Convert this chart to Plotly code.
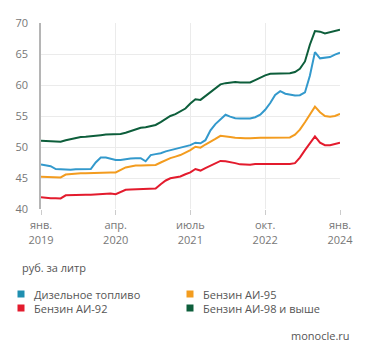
import plotly.graph_objects as go
import pandas as pd

months = pd.date_range("2019-01-01", "2024-01-01", freq="MS")

diesel = [47.2, 47.1, 46.9, 46.45, 46.4, 46.35, 46.35, 46.4, 46.4, 46.4, 46.45, 47.5,
          48.3, 48.3, 48.15, 47.9, 47.9, 48.05, 48.15, 48.2, 48.2, 47.7, 48.7, 48.85,
          49.0, 49.3, 49.5, 49.7, 49.85, 50.05, 50.3, 50.7, 50.6, 51.1, 52.7, 53.7,
          54.5, 55.2, 54.9, 54.65, 54.6, 54.6, 54.6, 54.8, 55.2, 56.0, 57.1, 58.4,
          59.0, 58.6, 58.4, 58.3, 58.35, 58.8, 61.5, 65.3, 64.3, 64.4, 64.5, 64.9, 65.2]
ai95 = [45.2, 45.15, 45.1, 45.1, 45.1, 45.55, 45.65, 45.7, 45.75, 45.75, 45.8, 45.85,
        45.9, 45.9, 45.9, 45.9, 46.3, 46.7, 46.85, 47.0, 47.0, 47.0, 47.05, 47.1,
        47.5, 47.9, 48.2, 48.45, 48.7, 49.1, 49.5, 50.05, 49.9, 50.4, 50.8, 51.3,
        51.8, 51.75, 51.6, 51.5, 51.4, 51.4, 51.4, 51.5, 51.5, 51.5, 51.5, 51.55,
        51.55, 51.55, 51.55, 52.0, 52.8, 54.0, 55.2, 56.5, 55.6, 55.0, 54.9, 55.0, 55.35]
ai92 = [41.9, 41.8, 41.75, 41.75, 41.7, 42.2, 42.25, 42.3, 42.3, 42.3, 42.3, 42.35,
        42.5, 42.55, 42.5, 42.4, 42.8, 43.1, 43.15, 43.2, 43.25, 43.3, 43.3, 43.3,
        44.0, 44.6, 44.95, 45.1, 45.25, 45.6, 45.9, 46.45, 46.2, 46.6, 47.0, 47.4,
        47.75, 47.7, 47.6, 47.4, 47.2, 47.15, 47.15, 47.25, 47.25, 47.25, 47.25, 47.25,
        47.25, 47.2, 47.25, 47.4, 48.3, 49.5, 50.6, 51.7, 50.7, 50.3, 50.3, 50.5, 50.7]
ai98 = [51.0, 50.95, 50.9, 50.9, 50.85, 51.1, 51.3, 51.5, 51.6, 51.65, 51.7, 51.8,
        51.9, 52.0, 52.05, 52.05, 52.1, 52.3, 52.6, 52.9, 53.1, 53.2, 53.4, 53.55,
        54.0, 54.6, 55.0, 55.3, 55.7, 56.2, 57.0, 57.7, 57.6, 58.2, 58.8, 59.4,
        60.1, 60.3, 60.45, 60.5, 60.4, 60.4, 60.4, 60.8, 61.25, 61.55, 61.8, 61.85,
        61.9, 61.9, 61.9, 62.1, 62.6, 63.8, 66.5, 68.7, 68.6, 68.3, 68.5, 68.7, 68.9]

series_names = ["Дизельное топливо", "Бензин АИ-95", "Бензин АИ-92", "Бензин АИ-98 и выше"]
series_values = [diesel, ai95, ai92, ai98]
series_colors = ["#3399cc", "#f39c1f", "#e31b2d", "#0d5e3b"]
legend_colors = ["#1f8fb0", "#f39c1f", "#e31b2d", "#0d5e3b"]

tick_vals = ["2019-01-01", "2020-04-01", "2021-07-01", "2022-10-01", "2024-01-01"]
tick_text = ["янв.<br>2019", "апр.<br>2020", "июль<br>2021", "окт.<br>2022", "янв.<br>2024"]
y_ticks = [40, 45, 50, 55, 60, 65, 70]

FONT = "Open Sans"
W, H = 371, 358
L, R, T, B = 41, 31, 23, 149
pw, ph = W - L - R, H - T - B

def px(x):
    return (x - L) / pw

def py(y):
    return (H - B - y) / ph

fig = go.Figure()
for name, vals, col in zip(series_names, series_values, series_colors):
    fig.add_trace(go.Scatter(x=months, y=vals, name=name, mode="lines",
                             line=dict(color=col, width=2), showlegend=False))

annotations = []
shapes = []
annotations.append(dict(text="руб. за литр", x=px(20), y=py(267), xref="paper", yref="paper",
                        xanchor="left", yanchor="middle", showarrow=False,
                        font=dict(family=FONT, size=11, color="#555555")))
legend_pos = [(21, 294), (190, 294), (21, 308), (190, 308)]
for name, col, (lx, ly) in zip(series_names, legend_colors, legend_pos):
    shapes.append(dict(type="rect", xref="paper", yref="paper",
                       x0=px(lx - 3.5), x1=px(lx + 3.5), y0=py(ly + 3.5), y1=py(ly - 3.5),
                       fillcolor=col, line=dict(width=0)))
    annotations.append(dict(text=name, x=px(lx + 11), y=py(ly), xref="paper", yref="paper",
                            xanchor="left", yanchor="middle", showarrow=False,
                            font=dict(family=FONT, size=11, color="#555555")))
annotations.append(dict(text="monocle.ru", x=px(352), y=py(336), xref="paper", yref="paper",
                        xanchor="right", yanchor="middle", showarrow=False,
                        font=dict(family=FONT, size=11, color="#555555")))

fig.update_layout(
    width=W, height=H,
    margin=dict(l=L, r=R, t=T, b=B),
    paper_bgcolor="white", plot_bgcolor="white",
    font=dict(family=FONT, size=11, color="#777777"),
    annotations=annotations, shapes=shapes,
    xaxis=dict(type="date", range=["2019-01-01", "2024-01-01"],
               tickvals=tick_vals, ticktext=tick_text,
               showgrid=True, gridcolor="#ebebeb", gridwidth=1,
               ticks="outside", ticklen=5, tickcolor="#cccccc",
               showline=False, zeroline=False, ticklabelstandoff=1,
               tickfont=dict(family=FONT, size=11, color="#777777")),
    yaxis=dict(range=[40, 70], tickvals=y_ticks,
               showgrid=True, gridcolor="#ebebeb", gridwidth=1,
               showline=True, linecolor="#b5b5b5", linewidth=1.5,
               ticks="", zeroline=False, ticklabelstandoff=9,
               tickfont=dict(family=FONT, size=11, color="#777777")),
)

fig.write_html("out.html", config={"displayModeBar": False},
               post_script="document.body.style.margin='0px';")
